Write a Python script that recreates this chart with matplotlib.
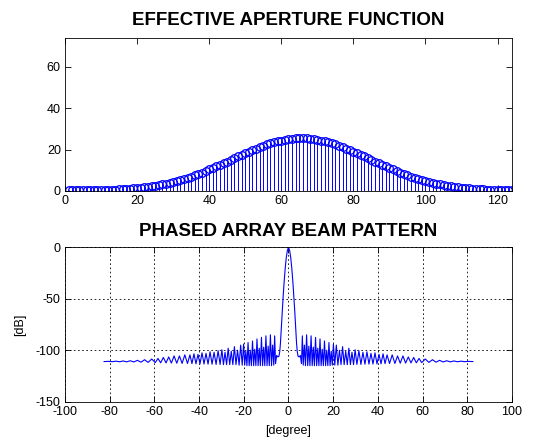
import numpy as np
import matplotlib
matplotlib.use("Agg")
import matplotlib.pyplot as plt

plt.rcParams['font.family'] = ['Liberation Sans', 'DejaVu Sans']
plt.rcParams['axes.unicode_minus'] = False

# aperture weights, elements 1..128
elem = np.arange(1, 129)
aperture = [0.4, 0.4, 0.4, 0.4, 0.4, 0.4, 0.4, 0.4, 0.4, 0.4,
            0.4, 0.45, 0.5, 0.6, 0.75, 0.86, 1.0, 1.1, 1.3, 1.45,
            1.6, 1.9, 2.1, 2.3, 2.6, 2.9, 3.3, 3.6, 4.0, 4.5,
            4.9, 5.4, 5.9, 6.5, 7.0, 7.6, 8.3, 8.9, 9.6, 10.4,
            11.1, 11.9, 12.6, 13.4, 14.2, 15.1, 15.9, 16.7, 17.5, 18.3,
            19.1, 19.8, 20.5, 21.2, 21.9, 22.5, 23.1, 23.6, 24.0, 24.4,
            24.8, 25.1, 25.3, 25.4, 25.5, 25.5, 25.4, 25.3, 25.1, 24.8,
            24.4, 24.0, 23.6, 23.1, 22.5, 21.9, 21.2, 20.5, 19.8, 19.1,
            18.3, 17.5, 16.7, 15.9, 15.1, 14.2, 13.4, 12.6, 11.9, 11.1,
            10.4, 9.6, 8.9, 8.3, 7.6, 7.0, 6.5, 5.9, 5.4, 4.9,
            4.5, 4.0, 3.6, 3.3, 2.9, 2.6, 2.3, 2.1, 1.9, 1.6,
            1.45, 1.3, 1.1, 1.0, 0.86, 0.75, 0.6, 0.5, 0.45, 0.4,
            0.4, 0.4, 0.4, 0.4, 0.4, 0.4, 0.4, 0.4]

# beam pattern, right half (degree, dB); the pattern is symmetric
ang_right = [0, 0.5, 1.0, 1.5, 2.0, 2.4, 2.8, 3.2, 3.6, 3.9, 4.3, 4.8, 5.3,
             5.8, 6.2, 6.6, 7.1, 7.6, 8.1, 8.6, 9.1, 9.6, 10.1, 10.6, 11.1,
             11.6, 12.1, 12.6, 13.1, 13.6, 14.1, 14.6, 15.1, 15.6, 16.1,
             16.6, 17.1, 17.6, 18.1, 18.6, 19.1, 19.6, 20.1, 20.7, 21.4,
             22.1, 22.8, 23.5, 24.2, 24.9, 25.6, 26.3, 27.0, 27.7, 28.4,
             29.1, 29.8, 30.6, 31.5, 32.4, 33.3, 34.2, 35.1, 36.0, 36.9,
             37.8, 38.7, 39.6, 40.5, 41.4, 42.3, 43.2, 44.1, 45.2, 46.4,
             47.6, 48.8, 50.0, 51.2, 52.4, 53.6, 54.8, 56.0, 57.2, 58.4,
             59.6, 61.2, 62.8, 64.4, 66.0, 67.6, 69.2, 70.8, 72.4, 74.0,
             75.6, 77.2, 78.8, 80.4, 82.5]
db_right = [0, -3, -10, -21, -35, -48, -62, -78, -93, -101, -106, -106.5, -105,
            -113, -86, -114.5, -95, -115, -85, -115, -96, -115, -86, -115, -97,
            -115, -87.5, -115, -98, -115, -89, -115, -99, -115, -91,
            -115, -100, -115, -92.5, -115, -101, -114.5, -94, -114.5, -95,
            -114.5, -100, -114, -96.5, -114, -101, -114, -98, -114, -102,
            -114, -99.5, -113.8, -100.5, -113.8, -102, -113.6, -101.5, -113.5, -103,
            -113.4, -102.5, -113.3, -104, -113.2, -103.5, -113, -104.5, -112.9, -104.5,
            -112.8, -105.5, -112.6, -105.5, -112.5, -106.5, -112.3, -107, -112.2, -108,
            -112, -108.5, -111.8, -109.2, -111.6, -109.8, -111.4, -110.2, -111.3, -110.4,
            -111.2, -110.6, -111.1, -110.8, -111.0]

ang_r = np.array(ang_right)
db_r = np.array(db_right)
theta = np.concatenate([-ang_r[:0:-1], ang_r])
beam = np.concatenate([db_r[:0:-1], db_r])

fig = plt.figure(figsize=(5.39, 4.41), dpi=100)

ax1 = fig.add_axes([0.1206, 0.5669, 0.8293, 0.3469])
markers, stems, base = ax1.stem(elem, aperture, linefmt='b-', markerfmt='bo', basefmt=' ')
plt.setp(markers, markerfacecolor='none', markeredgecolor='#0000ff', markersize=5.5, markeredgewidth=0.9)
plt.setp(stems, color='#0000ff', linewidth=0.7)
ax1.set_xlim(0, 124)
ax1.set_ylim(0, 74)
ax1.set_xticks(range(0, 121, 20))
ax1.set_yticks([0, 20, 40, 60])
ax1.set_title('EFFECTIVE APERTURE FUNCTION', fontsize=13.5, fontweight='bold', pad=9.5)

ax2 = fig.add_axes([0.1206, 0.0891, 0.8293, 0.3501])
ax2.plot(theta, beam, color='#0000ff', linewidth=0.8)
ax2.set_xlim(-100, 100)
ax2.set_ylim(-150, 0)
ax2.set_xticks(range(-100, 101, 20))
ax2.set_yticks([-150, -100, -50, 0])
ax2.grid(True, color='black', linestyle=(0, (2, 3)), linewidth=0.6)
ax2.set_title('PHASED ARRAY BEAM PATTERN', fontsize=13.5, fontweight='bold', pad=8.5)
ax2.set_xlabel('[degree]', fontsize=9, labelpad=5)
ax2.set_ylabel('[dB]', fontsize=9, labelpad=7)

for ax in (ax1, ax2):
    ax.tick_params(direction='in', top=True, right=True, length=4, width=0.6, labelsize=9, pad=3)
    for s in ax.spines.values():
        s.set_linewidth(0.6)

fig.savefig('out.png', dpi=100)
